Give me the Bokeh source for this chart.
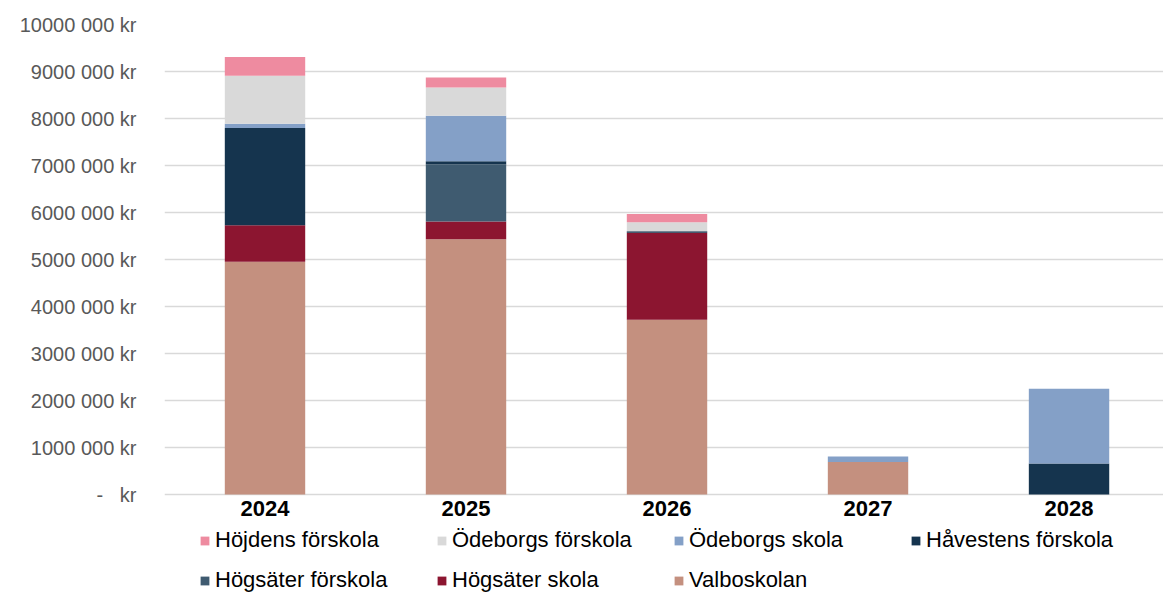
from bokeh.plotting import figure
from bokeh.models import (ColumnDataSource, Range1d, FixedTicker, Legend, LegendItem)
from bokeh.core.properties import value
from bokeh.embed import file_html
from bokeh.resources import INLINE

# Investment per school and year (SEK)
years = [2024, 2025, 2026, 2027, 2028]
year_labels = ["2024", "2025", "2026", "2027", "2028"]
valboskolan = [4950000, 5430000, 3720000, 690000, 0]
hogsater_skola = [780000, 380000, 1850000, 0, 0]
hogsater_forskola = [0, 1210000, 0, 0, 0]
havestens_forskola = [2070000, 70000, 30000, 0, 660000]
odeborgs_skola = [90000, 970000, 0, 120000, 1590000]
odeborgs_forskola = [1020000, 600000, 190000, 0, 0]
hojdens_forskola = [400000, 210000, 180000, 0, 0]

series_names = ["Valboskolan", "Högsäter skola", "Högsäter förskola", "Håvestens förskola",
                "Ödeborgs skola", "Ödeborgs förskola", "Höjdens förskola"]
series_values = [valboskolan, hogsater_skola, hogsater_forskola, havestens_forskola,
                 odeborgs_skola, odeborgs_forskola, hojdens_forskola]
colors = ["#C4907F", "#8C1530", "#3F5B70", "#15344E", "#84A0C7", "#D9D9D9", "#EE8BA0"]

y_ticks = [i * 1000000 for i in range(11)]
# non-breaking spaces keep the gap in the zero label
y_labels = ["-\u00a0\u00a0\u00a0kr"] + ["%d000 000 kr" % i for i in range(1, 11)]

keys = ["s%d" % i for i in range(len(series_names))]
data = {"year": years, "label": year_labels, "zero": [0] * len(years)}
for k, v in zip(keys, series_values):
    data[k] = v
source = ColumnDataSource(data)

# the frame runs to the bottom edge so the year labels and legend sit inside it
p = figure(width=1163, height=592, output_backend="svg", toolbar_location=None,
           x_range=Range1d(2023.5, 2028.47), y_range=Range1d(-2085000, 10000000),
           x_axis_location=None,
           min_border_left=164, min_border_right=0, min_border_top=24,
           min_border_bottom=0)
p.outline_line_color = None

renderers = p.vbar_stack(keys, x="year", width=0.4, source=source, color=colors, line_width=0)

# category labels under the baseline
p.text(x="year", y="zero", text="label", source=source, y_offset=14,
       text_align="center", text_baseline="middle",
       text_font=value("Liberation Sans"), text_font_style="bold",
       text_font_size="22px", text_color="#000000")

p.yaxis.ticker = FixedTicker(ticks=y_ticks)
p.yaxis.major_label_overrides = {t: l for t, l in zip(y_ticks, y_labels)}
p.yaxis.major_label_text_font = "Liberation Sans"
p.yaxis.major_label_text_font_size = "20px"
p.yaxis.major_label_text_color = "#595959"
p.yaxis.axis_line_color = None
p.yaxis.major_tick_line_color = None
p.yaxis.minor_tick_line_color = None
p.yaxis.major_label_standoff = 22

p.xgrid.grid_line_color = None
p.ygrid.grid_line_color = "#D9D9D9"
p.ygrid.grid_line_width = 1.5

# legend, top of stack first, in a 4-column grid
items = [LegendItem(label=n, renderers=[r]) for n, r in zip(series_names, renderers)][::-1]
legend = Legend(items=items, orientation="horizontal", ncols=4,
                location=(35, -3), glyph_width=11, glyph_height=11,
                label_text_font="Liberation Sans", label_text_font_size="22px",
                label_text_color="#000000", label_standoff=5,
                label_width=211, label_height=30, spacing=10,
                padding=0, margin=0, border_line_color=None,
                background_fill_alpha=0)
p.add_layout(legend, "center")

open("out.html", "w").write(file_html(p, INLINE))
